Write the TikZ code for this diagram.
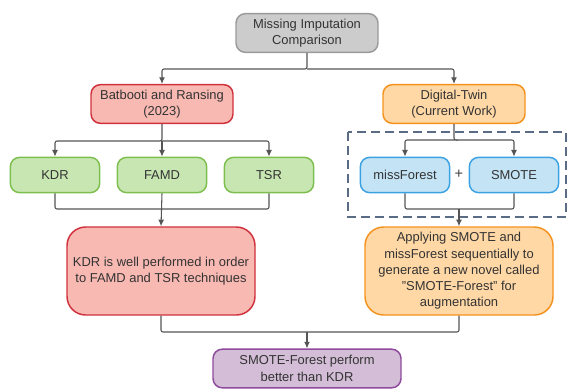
\documentclass[tikz,border=0pt]{standalone}
\usepackage{fontspec}
\setmainfont{Liberation Sans}
\usetikzlibrary{arrows.meta}
\definecolor{grayfill}{HTML}{CCCCCC}
\definecolor{grayline}{HTML}{9A9A9A}
\definecolor{redfill}{HTML}{F8B9B2}
\definecolor{redline}{HTML}{D0313D}
\definecolor{orangefill}{HTML}{FFD8A6}
\definecolor{orangeline}{HTML}{F5921E}
\definecolor{greenfill}{HTML}{C8E6B2}
\definecolor{greenline}{HTML}{7DBF4F}
\definecolor{bluefill}{HTML}{C4E3F5}
\definecolor{blueline}{HTML}{3AA2E2}
\definecolor{purplefill}{HTML}{D4BDD7}
\definecolor{purpleline}{HTML}{8E4A9B}
\definecolor{linkgray}{HTML}{555555}
\definecolor{dashslate}{HTML}{5A6B85}
\tikzset{>={Latex[length=5pt,width=4.5pt]}}
\tikzset{
  box/.style={rounded corners=7pt,line width=1.1pt,align=center,inner sep=0pt,
    font=\fontsize{9.7}{12.2}\selectfont,text=black!80},
  headbox/.style={box,minimum width=106.5pt,minimum height=29pt},
  smallbox/.style={box,minimum width=67pt,minimum height=26.5pt},
  bigbox/.style={box,rounded corners=14pt,minimum width=141pt,minimum height=66pt},
  endbox/.style={box,minimum width=141pt,minimum height=29pt},
  link/.style={draw=linkgray,line width=0.8pt,rounded corners=1.5pt}
}
\begin{document}
\begin{tikzpicture}[x=0.75pt,y=-0.75pt]
    \useasboundingbox (0,0) rectangle (567,389);

    \node[headbox,fill=grayfill,draw=grayline] (top) at (307,33) {Missing Imputation\\Comparison};
    \node[headbox,fill=redfill,draw=redline] (bat) at (162,104) {Batbooti and Ransing\\(2023)};
    \node[headbox,fill=orangefill,draw=orangeline] (dt) at (454,104) {Digital-Twin\\(Current Work)};

    \node[smallbox,fill=greenfill,draw=greenline] (kdr) at (55,175) {KDR};
    \node[smallbox,fill=greenfill,draw=greenline] (famd) at (162,175) {FAMD};
    \node[smallbox,fill=greenfill,draw=greenline] (tsr) at (269,175) {TSR};

    \draw[dashslate,line width=1.2pt,dash pattern=on 6.5pt off 4pt] (348,132) rectangle (566,217);
    \node[smallbox,fill=bluefill,draw=blueline] (mf) at (405,175) {missForest};
    \node[smallbox,fill=bluefill,draw=blueline] (smote) at (514,175) {SMOTE};
    \node[font=\fontsize{11}{12}\selectfont,text=black!75] (plus) at (459,174) {+};

    \node[bigbox,fill=redfill,draw=redline] (res) at (161,271) {KDR is well performed in order\\to FAMD and TSR techniques};
    \node[bigbox,fill=orangefill,draw=orangeline] (app) at (459,271) {Applying SMOTE and\\missForest sequentially to\\generate a new novel called\\"SMOTE-Forest" for\\augmentation};

    \node[endbox,fill=purplefill,draw=purpleline] (end) at (307,368.5) {SMOTE-Forest perform\\better than KDR};

    \coordinate (j1) at (307,69);
    \coordinate (j2) at (162,141);
    \coordinate (j3) at (456,140);
    \coordinate (j4) at (162,209);
    \coordinate (j5) at (459,209);
    \coordinate (j6) at (307,332);

    \draw[link,->] (top.south) -- (j1) -| (bat.north);
    \draw[link,->] (j1) -| (dt.north);

    \draw[link,->] (bat.south) -- (j2) -| (kdr.north);
    \draw[link,->] (j2) -- (famd.north);
    \draw[link,->] (j2) -| (tsr.north);

    \draw[link,->] (dt.south) |- (j3) -| (mf.north);
    \draw[link,->] (j3) -| (smote.north);

    \draw[link] (kdr.south) |- (j4);
    \draw[link] (tsr.south) |- (j4);
    \draw[link,->] (famd.south) -- (res.north);

    \draw[link] (mf.south) |- (j5);
    \draw[link] (smote.south) |- (j5);
    \draw[link,->] (j5) -- (app.north);

    \draw[link] (res.south) |- (j6);
    \draw[link] (app.south) |- (j6);
    \draw[link,->] (j6) -- (end.north);
  \end{tikzpicture}
\end{document}
